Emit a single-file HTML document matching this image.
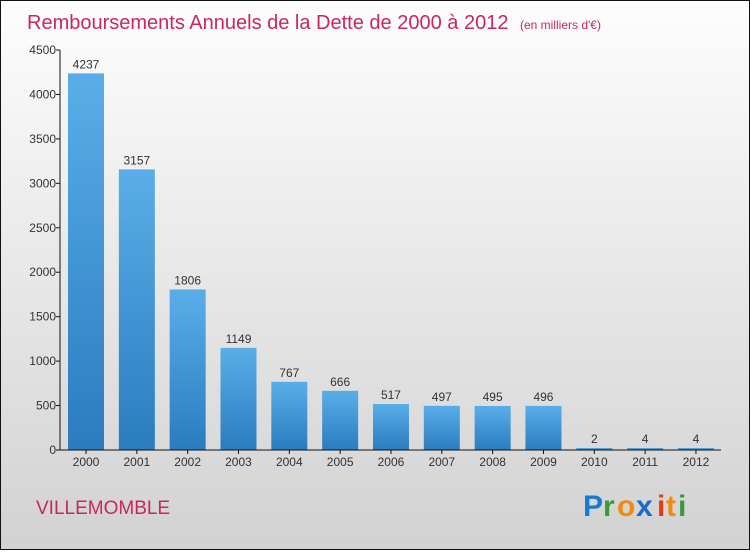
<!DOCTYPE html>
<html><head><meta charset="utf-8"><style>
body{margin:0;width:750px;height:550px;overflow:hidden;font-family:"Liberation Sans",sans-serif}
</style></head><body>
<svg width="750" height="550" viewBox="0 0 750 550">
<defs>
<linearGradient id="bg" x1="0" y1="0" x2="0" y2="1"><stop offset="0" stop-color="#fdfdfd"/><stop offset="1" stop-color="#d2d2d2"/></linearGradient>
<linearGradient id="bar" x1="0" y1="0" x2="0" y2="1"><stop offset="0" stop-color="#5aaee8"/><stop offset="1" stop-color="#2a7cbf"/></linearGradient>
</defs>
<rect x="0.5" y="0.5" width="749" height="549" fill="url(#bg)" stroke="#111"/>
<text x="27" y="29" font-size="20" fill="#c8285a">Remboursements Annuels de la Dette de 2000 à 2012 <tspan font-size="12" dx="6">(en milliers d'€)</tspan></text>
<text x="36" y="514" font-size="19" fill="#c8285a">VILLEMOMBLE</text>
<g font-size="30" font-weight="bold">
<text x="583" y="516" fill="#1a7ad0">P</text><text x="603" y="516" fill="#3a9a3a">r</text><text x="617" y="516" fill="#f08a10">o</text><text x="636" y="516" fill="#1a6ac8">x</text><text x="657" y="516" fill="#e83a10">i</text><text x="666" y="516" fill="#f08a10">t</text><text x="678" y="516" fill="#3a9a3a">i</text>
</g>
<g id="plot"></g>
</svg>
<script>
const categories=["2000","2001","2002","2003","2004","2005","2006","2007","2008","2009","2010","2011","2012"];
const values=[4237,3157,1806,1149,767,666,517,497,495,496,2,4,4];
const yTicks=[0,500,1000,1500,2000,2500,3000,3500,4000,4500];
const NS="http://www.w3.org/2000/svg",g=document.getElementById('plot');
const y=v=>450-v*400/4500, x=i=>86+i*50.83;
function mk(t,a,txt){const e=document.createElementNS(NS,t);for(const k in a)e.setAttribute(k,a[k]);if(txt!=null)e.textContent=txt;g.appendChild(e);return e;}
yTicks.forEach(t=>{
 const l=mk('line',{x1:56,x2:60,y1:y(t),y2:y(t),stroke:'#111'});
 
 
 const tx=mk('text',{x:56,y:y(t)+4,'font-size':12,'text-anchor':'end',fill:'#333'},t);
 
 
});
categories.forEach((c,i)=>{
 const h=Math.max(450-y(values[i]),2);
 const b=mk('rect',{x:x(i)-18,y:450-h,width:36,height:h,fill:'url(#bar)'});
 
 
 const v=mk('text',{x:x(i),y:450-h-5,'font-size':12,'text-anchor':'middle',fill:'#333'},values[i]);
 
 
 const tk=mk('line',{x1:x(i),x2:x(i),y1:450,y2:454,stroke:'#111'});
 
 
 const t=mk('text',{x:x(i),y:466,'font-size':12,'text-anchor':'middle',fill:'#333'},c);
 
 
});
const ya=mk('line',{x1:60,x2:60,y1:50,y2:450,stroke:'#111'});


const xa=mk('line',{x1:60,x2:721,y1:450,y2:450,stroke:'#111'});


</script>
</body></html>
